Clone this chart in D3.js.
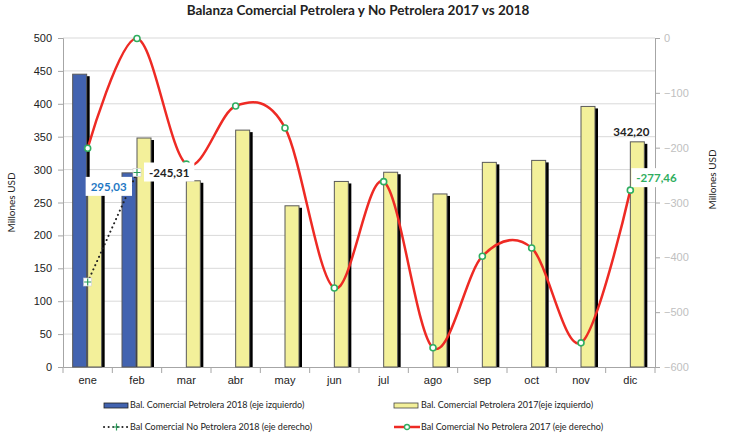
<!DOCTYPE html>
<html>
<head>
<meta charset="utf-8">
<script src="https://cdn.jsdelivr.net/npm/d3@7"></script>
<style>
  body { margin: 0; background: #fff; }
  svg { display: block; font-family: Lato, 'Open Sans', sans-serif; }
</style>
</head>
<body>
<div id="chart"></div>
<script>
const MONTHS      = ['ene','feb','mar','abr','may','jun','jul','ago','sep','oct','nov','dic'];
const PETRO_2018  = [445, 295.03, null, null, null, null, null, null, null, null, null, null];
const PETRO_2017  = [280, 348, 283, 360, 245, 282, 296, 263, 311, 314, 396, 342.20];
const NOPET_2018  = [-445, -245.31, null, null, null, null, null, null, null, null, null, null];
const NOPET_2017  = [-201, -1, -230, -124, -164, -456, -262, -565, -398, -383, -556, -277.46];
const LEFT_TICKS  = [0, 50, 100, 150, 200, 250, 300, 350, 400, 450, 500];
const RIGHT_TICKS = [0, -100, -200, -300, -400, -500, -600];

const W = 733, H = 440;
const M = { top: 38, right: 78, bottom: 73, left: 63 };
const iw = W - M.left - M.right, ih = H - M.top - M.bottom;

const fmt = v => v.toFixed(2).replace('.', ',');

const svg = d3.select('#chart').append('svg')
  .attr('width', W).attr('height', H);

svg.append('text')
  .attr('x', 358).attr('y', 15)
  .attr('text-anchor', 'middle')
  .attr('font-size', 13.5).attr('font-weight', 'bold').attr('fill', '#222')
  .text('Balanza Comercial Petrolera y No Petrolera 2017 vs 2018');

const g = svg.append('g').attr('transform', `translate(${M.left},${M.top})`);

const x  = d3.scaleBand().domain(MONTHS).range([0, iw]);
const yL = d3.scaleLinear().domain([0, 500]).range([ih, 0]);
const yR = d3.scaleLinear().domain([-600, 0]).range([ih, 0]);
const cx = m => x(m) + x.bandwidth() / 2;

// grid
g.append('g').selectAll('line')
  .data(LEFT_TICKS.filter(t => t > 0))
  .join('line')
  .attr('x1', 0).attr('x2', iw)
  .attr('y1', d => yL(d)).attr('y2', d => yL(d))
  .attr('stroke', '#d9d9d9').attr('stroke-width', 1);

// left axis
const axL = g.append('g').call(d3.axisLeft(yL).tickValues(LEFT_TICKS).tickSize(5).tickPadding(6));
axL.selectAll('text').attr('font-size', 11).attr('fill', '#222');
axL.selectAll('line, path').attr('stroke', '#a6a6a6');

// right axis
const axR = g.append('g').attr('transform', `translate(${iw},0)`)
  .call(d3.axisRight(yR).tickValues(RIGHT_TICKS).tickSize(5).tickPadding(4));
axR.selectAll('text').attr('font-size', 11).attr('fill', '#c0c0c0');
axR.selectAll('line, path').attr('stroke', '#a6a6a6');

// bottom axis
const axB = g.append('g').attr('transform', `translate(0,${ih})`)
  .call(d3.axisBottom(x).tickSize(0).tickPadding(9));
axB.selectAll('text').attr('font-size', 11).attr('fill', '#222');
axB.select('path').attr('stroke', '#a6a6a6');
axB.append('g').selectAll('line')
  .data(d3.range(MONTHS.length + 1))
  .join('line')
  .attr('x1', i => i * x.bandwidth()).attr('x2', i => i * x.bandwidth())
  .attr('y1', 0).attr('y2', 6)
  .attr('stroke', '#a6a6a6');

// axis titles
svg.append('text')
  .attr('transform', `translate(15,${M.top + ih / 2}) rotate(-90)`)
  .attr('text-anchor', 'middle').attr('font-size', 10).attr('fill', '#222')
  .text('Millones USD');
svg.append('text')
  .attr('transform', `translate(716,${M.top + ih / 2 - 23}) rotate(-90)`)
  .attr('text-anchor', 'middle').attr('font-size', 10).attr('fill', '#222')
  .text('Millones USD');

// bars
const BW = 14;
function bars(vals, offset, fill) {
  const data = MONTHS.map((m, i) => ({ m, v: vals[i] })).filter(d => d.v != null);
  const bg = g.append('g');
  bg.selectAll('.shadow').data(data).join('rect')
    .attr('x', d => cx(d.m) + offset + 3).attr('y', d => yL(d.v) + 2)
    .attr('width', BW).attr('height', d => ih - yL(d.v) - 2)
    .attr('fill', '#000');
  bg.selectAll('.bar').data(data).join('rect')
    .attr('x', d => cx(d.m) + offset).attr('y', d => yL(d.v))
    .attr('width', BW).attr('height', d => ih - yL(d.v))
    .attr('fill', fill).attr('stroke', '#595959').attr('stroke-width', 1);
}
bars(PETRO_2018, -15, '#4263b0');
bars(PETRO_2017, 0, '#f3f09a');

// red smooth line 2017
const red = MONTHS.map((m, i) => ({ m, v: NOPET_2017[i] }));
g.append('path').datum(red)
  .attr('d', d3.line().x(d => cx(d.m)).y(d => yR(d.v)).curve(d3.curveCardinal.tension(0)))
  .attr('fill', 'none').attr('stroke', '#ee2a24').attr('stroke-width', 2.5);
g.selectAll('.rdot').data(red).join('circle')
  .attr('cx', d => cx(d.m)).attr('cy', d => yR(d.v)).attr('r', 3)
  .attr('fill', '#fff').attr('stroke', '#2fae60').attr('stroke-width', 1.6);

// dotted black line 2018
const blk = MONTHS.map((m, i) => ({ m, v: NOPET_2018[i] })).filter(d => d.v != null);
g.append('path').datum(blk)
  .attr('d', d3.line().x(d => cx(d.m)).y(d => yR(d.v)))
  .attr('fill', 'none').attr('stroke', '#222').attr('stroke-width', 2)
  .attr('stroke-dasharray', '0.1 4.5').attr('stroke-linecap', 'round');
function plusMarker(sel) {
  sel.append('rect').attr('x', -4).attr('y', -4).attr('width', 8).attr('height', 8)
    .attr('fill', '#fff').attr('stroke', '#d0d0d0').attr('stroke-width', 0.6);
  sel.append('path').attr('d', 'M-3.5,0H3.5M0,-3.5V3.5')
    .attr('stroke', '#2a9c5a').attr('stroke-width', 1.2);
}
g.selectAll('.bdot').data(blk).join('g')
  .attr('transform', d => `translate(${cx(d.m)},${yR(d.v)})`)
  .call(plusMarker);

// data labels
function label(px, py, txt, color, anchor, box) {
  const t = g.append('text').attr('x', px).attr('y', py)
    .attr('text-anchor', anchor).attr('font-size', 11.5).attr('font-weight', 'bold')
    .attr('fill', color).text(txt);
  if (box) {
    const b = t.node().getBBox();
    g.insert('rect', () => t.node())
      .attr('x', b.x - 5).attr('y', b.y - 3).attr('width', b.width + 10).attr('height', b.height + 6)
      .attr('fill', '#fff');
  }
}
label(cx('ene') + 21, yL(PETRO_2018[1]) + 18, fmt(PETRO_2018[1]), '#1f78c4', 'middle', true);
label(cx('feb') + 12, yR(NOPET_2018[1]) + 4, fmt(NOPET_2018[1]), '#222', 'start', true);
label(cx('dic') + 1, yL(PETRO_2017[11]) - 6, fmt(PETRO_2017[11]), '#222', 'middle', false);
label(cx('dic') + 6, yR(NOPET_2017[11]) - 8, fmt(NOPET_2017[11]), '#2fae60', 'start', true);

// legend
const lg = svg.append('g').attr('font-size', 9).attr('fill', '#222');
function legText(px, py, txt) {
  lg.append('text').attr('x', px).attr('y', py + 3).text(txt);
}
lg.append('rect').attr('x', 104).attr('y', 403).attr('width', 24).attr('height', 5)
  .attr('fill', '#4263b0').attr('stroke', '#222').attr('stroke-width', 0.8);
legText(130, 405, 'Bal. Comercial Petrolera 2018 (eje izquierdo)');
lg.append('rect').attr('x', 394).attr('y', 403).attr('width', 24).attr('height', 5)
  .attr('fill', '#f3f09a').attr('stroke', '#444').attr('stroke-width', 0.8);
legText(421, 405, 'Bal. Comercial Petrolera 2017(eje izquierdo)');

lg.append('line').attr('x1', 104).attr('x2', 129).attr('y1', 427).attr('y2', 427)
  .attr('stroke', '#222').attr('stroke-width', 2)
  .attr('stroke-dasharray', '0.1 4.5').attr('stroke-linecap', 'round');
lg.append('path').attr('d', 'M113,427H120M116.5,423.5V430.5')
  .attr('stroke', '#2a9c5a').attr('stroke-width', 1.2);
legText(130, 427, 'Bal Comercial No Petrolera 2018 (eje derecho)');
lg.append('line').attr('x1', 394).attr('x2', 420).attr('y1', 427).attr('y2', 427)
  .attr('stroke', '#ee2a24').attr('stroke-width', 2.5);
lg.append('circle').attr('cx', 407).attr('cy', 427).attr('r', 2.5)
  .attr('fill', '#fff').attr('stroke', '#2fae60').attr('stroke-width', 1.3);
legText(421, 427, 'Bal Comercial No Petrolera 2017 (eje derecho)');
</script>
</body>
</html>
